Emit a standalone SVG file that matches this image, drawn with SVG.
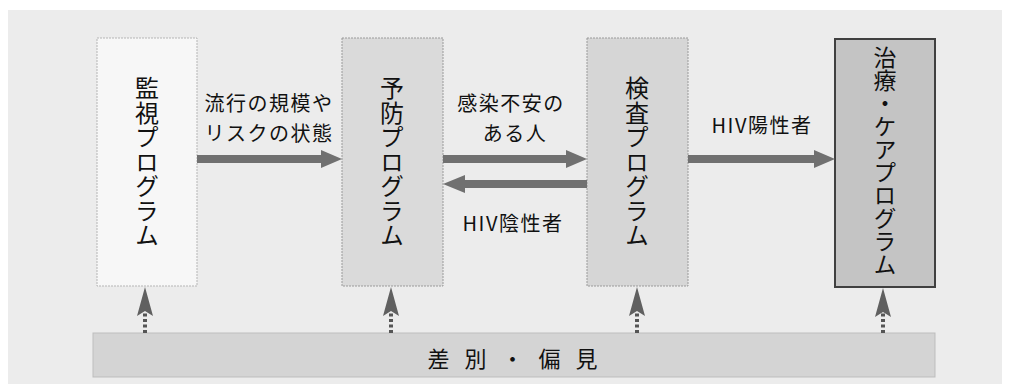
<svg xmlns="http://www.w3.org/2000/svg" width="1010" height="388" viewBox="0 0 1010 388">
<style>
text { font-family: "Noto Sans CJK JP", "Noto Sans", sans-serif; fill: #111; }
.lbl { font-size: 20px; letter-spacing: 1.5px; }
.vt { font-size: 24px; writing-mode: vertical-rl; text-orientation: upright; letter-spacing: 0.5px; }
.bar { fill: #707070; }
.dot { stroke: #555; stroke-width: 4; stroke-dasharray: 3 2.5; fill: none; }
.dhead { fill: #606060; }
</style>
<rect x="0" y="0" width="1010" height="388" fill="#ffffff"/>
<rect x="8" y="10" width="994" height="374" fill="#ececec"/>
<g id="node-kanshi">
<rect x="97" y="38" width="100" height="248" fill="#f7f7f7" stroke="#b5b5b5" stroke-width="1" stroke-dasharray="2 1"/>
<text class="vt" x="147" y="162" text-anchor="middle">監視プログラム</text>
</g>
<g id="node-yobo">
<rect x="342" y="38" width="101" height="248" fill="#dadada" stroke="#9a9a9a" stroke-width="1" stroke-dasharray="2 1"/>
<text class="vt" x="392" y="162" text-anchor="middle">予防プログラム</text>
</g>
<g id="node-kensa">
<rect x="587" y="38" width="101" height="248" fill="#d6d6d6" stroke="#9a9a9a" stroke-width="1" stroke-dasharray="2 1"/>
<text class="vt" x="637" y="162" text-anchor="middle">検査プログラム</text>
</g>
<g id="node-chiryo">
<rect x="835" y="39" width="100" height="248" fill="#c4c4c4" stroke="#404040" stroke-width="2"/>
<text class="vt" x="885" y="161" text-anchor="middle" style="font-size:23px;letter-spacing:0">治療・ケアプログラム</text>
</g>
<g id="node-sabetsu">
<rect x="93" y="333" width="842" height="44" fill="#d4d4d4" stroke="#bdbdbd" stroke-width="1"/>
<text x="520" y="367" text-anchor="middle" style="font-size:22px;letter-spacing:15px">差別・偏見</text>
</g>
<g id="connectors">
<path class="bar" d="M197,155 H321 V150 L342,159 L321,168 V163 H197 Z"/>
<path class="bar" d="M443,155 H566 V150 L587,159 L566,168 V163 H443 Z"/>
<path class="bar" d="M587,180 H465 V175 L443,184 L465,193 V188 H587 Z"/>
<path class="bar" d="M688,155 H814 V150 L835,159 L814,168 V163 H688 Z"/>
<line class="dot" x1="145" y1="333" x2="145" y2="312"/>
<path class="dhead" d="M145,287 L153,316 L145,311 L137,316 Z"/>
<line class="dot" x1="391" y1="333" x2="391" y2="312"/>
<path class="dhead" d="M391,287 L399,316 L391,311 L383,316 Z"/>
<line class="dot" x1="637" y1="333" x2="637" y2="312"/>
<path class="dhead" d="M637,287 L645,316 L637,311 L629,316 Z"/>
<line class="dot" x1="883" y1="333" x2="883" y2="312"/>
<path class="dhead" d="M883,288 L891,317 L883,312 L875,317 Z"/>
</g>
<g id="labels">
<text class="lbl" x="269" y="111" text-anchor="middle">流行の規模や</text>
<text class="lbl" x="269" y="141" text-anchor="middle">リスクの状態</text>
<text class="lbl" x="511" y="111" text-anchor="middle">感染不安の</text>
<text class="lbl" x="515" y="141" text-anchor="middle">ある人</text>
<text class="lbl" x="762" y="133" text-anchor="middle">HIV陽性者</text>
<text class="lbl" x="513" y="231" text-anchor="middle">HIV陰性者</text>
</g>
</svg>
